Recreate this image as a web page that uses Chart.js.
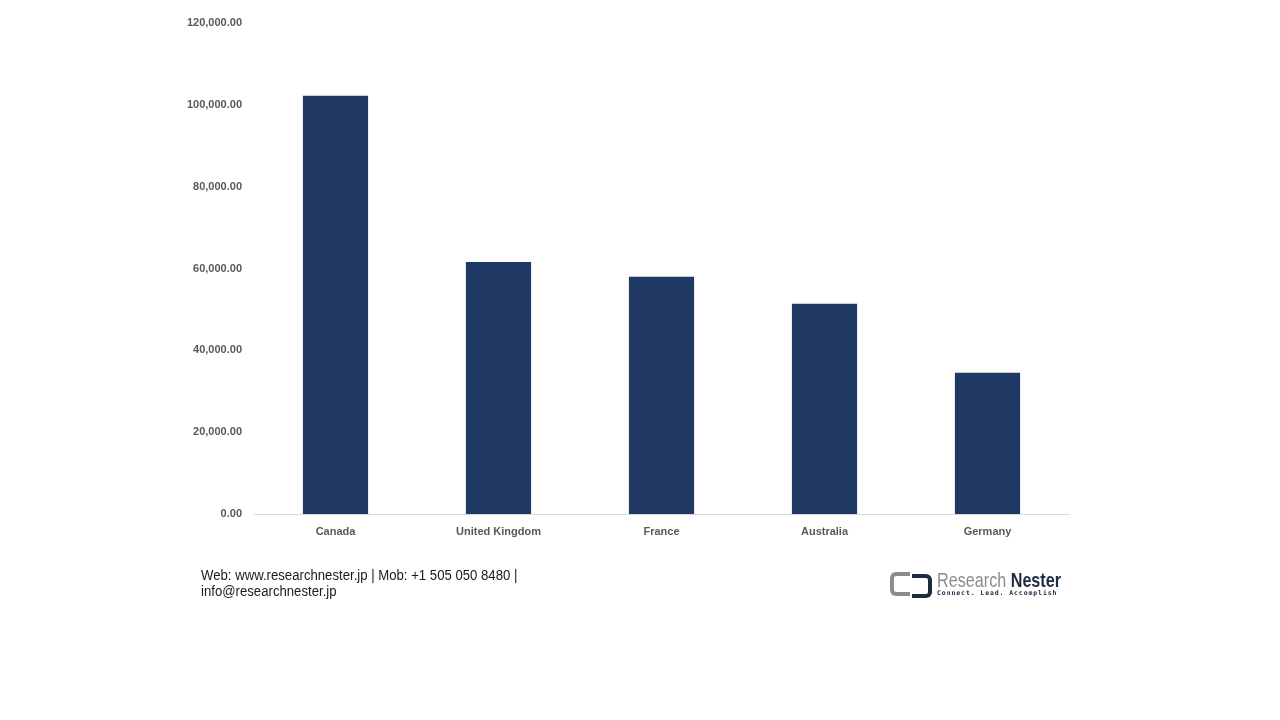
<!DOCTYPE html>
<html>
<head>
<meta charset="utf-8">
<script src="https://cdn.jsdelivr.net/npm/chart.js@4"></script>
<style>
  html, body { margin: 0; padding: 0; background: #fff; }
  #wrap { position: relative; width: 1280px; height: 720px; overflow: hidden; }
  #chart { position: absolute; left: 0; top: 0; }
  .footer {
    position: absolute; left: 201px; top: 567px;
    font-family: "Liberation Sans", Arial, sans-serif;
    font-size: 14px; line-height: 16px; color: #1a1a1a;
    transform: scaleX(0.94); transform-origin: left top; white-space: nowrap;
  }
  .logo { position: absolute; left: 890px; top: 569px; width: 170px; height: 30px; }
  .logo .icon-l {
    position: absolute; left: 0; top: 3px; width: 16px; height: 16px;
    border: 4px solid #8c8c8c; border-right: none; border-radius: 6px 0 0 6px;
  }
  .logo .icon-r {
    position: absolute; left: 22px; top: 5px; width: 16px; height: 16px;
    border: 4px solid #1c2b3f; border-left: none; border-radius: 0 6px 6px 0;
  }
  .logo .name {
    position: absolute; left: 47px; top: 0; white-space: nowrap;
    font-family: "Liberation Sans", Arial, sans-serif;
    font-size: 21px; line-height: 21px; color: #8c8c8c;
    transform: scaleX(0.77); transform-origin: left top;
  }
  .logo .name b { color: #1c2b3f; }
  .logo .tag {
    position: absolute; left: 47px; top: 20px; white-space: nowrap;
    font-family: "DejaVu Sans Mono", monospace; font-weight: bold;
    font-size: 6.5px; letter-spacing: 0.9px; color: #1c2b3f;
  }
</style>
</head>
<body>
<div id="wrap">
  <canvas id="chart" width="1280" height="720"></canvas>
  <div class="footer">Web: www.researchnester.jp | Mob: +1 505 050 8480 |<br>info@researchnester.jp</div>
  <div class="logo">
    <div class="icon-l"></div><div class="icon-r"></div>
    <div class="name">Research <b>Nester</b></div>
    <div class="tag">Connect. Lead. Accomplish</div>
  </div>
</div>
<script>
// Chart data
const countries = ['Canada', 'United Kingdom', 'France', 'Australia', 'Germany'];
const values = [102200, 61600, 58000, 51400, 34500];
const yTicks = [0, 20000, 40000, 60000, 80000, 100000, 120000];

const barColor = '#203864';
const labelColor = '#595959';
const tickFont = { family: '"Liberation Sans", Arial, sans-serif', size: 11, weight: 'bold' };

new Chart(document.getElementById('chart'), {
    type: 'bar',
    data: {
        labels: countries,
        datasets: [{
            data: values,
            backgroundColor: barColor,
            barPercentage: 0.4,
            categoryPercentage: 1.0
        }]
    },
    options: {
        responsive: false,
        animation: false,
        layout: {
            padding: { left: 0, right: 211, top: 23, bottom: 0 }
        },
        plugins: {
            legend: { display: false },
            tooltip: { enabled: false }
        },
        scales: {
            y: {
                min: 0,
                max: 120000,
                afterBuildTicks: scale => {
                    scale.ticks = yTicks.map(v => ({ value: v }));
                },
                afterFit: scale => { scale.width = 254; },
                grid: { display: false, drawTicks: false },
                border: { display: false },
                ticks: {
                    color: labelColor,
                    font: tickFont,
                    padding: 12,
                    callback: v => v.toLocaleString('en-US', { minimumFractionDigits: 2, maximumFractionDigits: 2 })
                }
            },
            x: {
                afterFit: scale => { scale.height = 206; },
                grid: { display: false, drawTicks: false },
                border: { display: true, color: '#d9d9d9', width: 1 },
                ticks: {
                    color: labelColor,
                    font: tickFont,
                    padding: 11,
                    maxRotation: 0
                }
            }
        }
    }
});
</script>
</body>
</html>
